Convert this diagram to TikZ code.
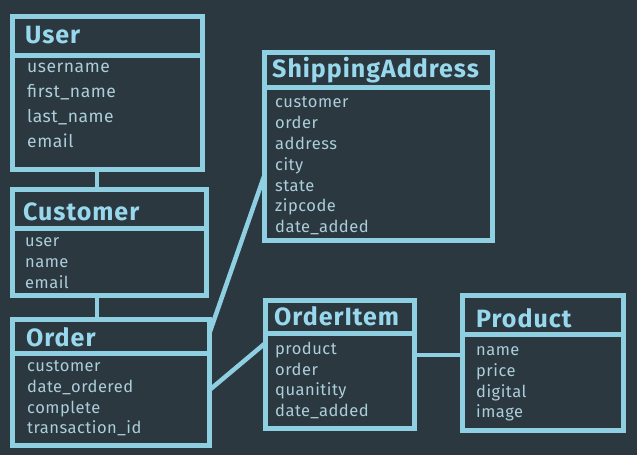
\documentclass[tikz,border=0pt]{standalone}
\usepackage{fontspec}
\setmainfont{Fira Sans}
\newfontfamily\hdfont[LetterSpace=4]{Fira Sans}
\newfontfamily\fdfont[LetterSpace=3]{Fira Sans}
\usetikzlibrary{calc}
\definecolor{bg}{RGB}{43,56,64}
\definecolor{bord}{RGB}{142,208,226}
\definecolor{hdtxt}{RGB}{152,216,236}
\definecolor{bdtxt}{RGB}{172,206,218}
\tikzset{
  tbox/.style={draw=bord, line width=5pt, rectangle, inner sep=0pt, outer sep=0pt, anchor=north west},
  bline/.style={draw=bord, line width=5pt},
  conn/.style={draw=bord, line width=4.5pt},
  hdr/.style={anchor=base west, inner sep=0pt, text=hdtxt, font=\hdfont\fontsize{25}{25}\selectfont\bfseries},
  fld/.style={anchor=base west, inner sep=0pt, text=bdtxt, font=\fdfont\fontsize{16.5}{16.5}\selectfont},
  ufld/.style={fld, font=\fdfont\fontsize{17.5}{17.5}\selectfont},
}
\begin{document}
\begin{tikzpicture}[x=1pt,y=-1pt]
\fill[bg] (0,0) rectangle (637,455);
\useasboundingbox (0,0) rectangle (637,455);
% tables
\node[tbox, minimum width=190pt, minimum height=153pt] (user) at (12.5,16.5) {};
\node[tbox, minimum width=194pt, minimum height=106pt] (customer) at (12.5,189.5) {};
\node[tbox, minimum width=197pt, minimum height=126pt] (order) at (12.5,319.5) {};
\node[tbox, minimum width=228pt, minimum height=188pt] (ship) at (264.5,52.5) {};
\node[tbox, minimum width=149pt, minimum height=128pt] (item) at (265.5,300.5) {};
\node[tbox, minimum width=161pt, minimum height=135pt] (product) at (462.5,295.5) {};
% dividers
\draw[bline] ([yshift=-39pt]user.north west) -- ([yshift=-39pt]user.north east);
\draw[bline] ([yshift=-38.5pt]customer.north west) -- ([yshift=-38.5pt]customer.north east);
\draw[bline] ([yshift=-33.5pt]order.north west) -- ([yshift=-33.5pt]order.north east);
\draw[bline] ([yshift=-34.5pt]ship.north west) -- ([yshift=-34.5pt]ship.north east);
\draw[bline] ([yshift=-32.5pt]item.north west) -- ([yshift=-32.5pt]item.north east);
\draw[bline] ([yshift=-39pt]product.north west) -- ([yshift=-39pt]product.north east);
% connectors
\draw[conn] ([xshift=84.5pt]user.south west) -- ([xshift=84.5pt]customer.north west);
\draw[conn] ([xshift=84.5pt]customer.south west) -- ([xshift=84.5pt]order.north west);
\draw[conn] ([yshift=-13.5pt]order.north east) -- ([yshift=-122.5pt]ship.north west);
\draw[conn] ([yshift=-70.5pt]order.north east) -- ([yshift=-42.5pt]item.north west);
\draw[conn] ([yshift=-54.5pt]item.north east) -- ([yshift=-59.5pt]product.north west);
% User
\node[hdr] (userh) at (25,43) {User};
\node[ufld] (u1) at (27,72) {username};
\node[ufld] (u2) at (27,97) {first\_name};
\node[ufld] (u3) at (27,122) {last\_name};
\node[ufld] (u4) at (27,147) {email};
% Customer
\node[hdr] (custh) at (23,220) {Customer};
\node[fld] (c1) at (25,246) {user};
\node[fld] (c2) at (25,267) {name};
\node[fld] (c3) at (25,288) {email};
% Order
\node[hdr] (ordh) at (26,346) {Order};
\node[fld] (o1) at (27,371) {customer};
\node[fld] (o2) at (27,392) {date\_ordered};
\node[fld] (o3) at (27,413) {complete};
\node[fld] (o4) at (27,433) {transaction\_id};
% ShippingAddress
\node[hdr] (shiph) at (272,77) {ShippingAddress};
\node[fld] (s1) at (275,107) {customer};
\node[fld] (s2) at (275,128) {order};
\node[fld] (s3) at (275,149) {address};
\node[fld] (s4) at (275,170) {city};
\node[fld] (s5) at (275,191) {state};
\node[fld] (s6) at (275,211) {zipcode};
\node[fld] (s7) at (275,232) {date\_added};
% OrderItem
\node[hdr] (itemh) at (274,325) {OrderItem};
\node[fld] (i1) at (275,354) {product};
\node[fld] (i2) at (275,375) {order};
\node[fld] (i3) at (275,395) {quanitity};
\node[fld] (i4) at (275,416) {date\_added};
% Product
\node[hdr] (prodh) at (476,327) {Product};
\node[fld] (p1) at (476,355) {name};
\node[fld] (p2) at (476,376) {price};
\node[fld] (p3) at (476,397) {digital};
\node[fld] (p4) at (476,417) {image};
\end{tikzpicture}
\end{document}
